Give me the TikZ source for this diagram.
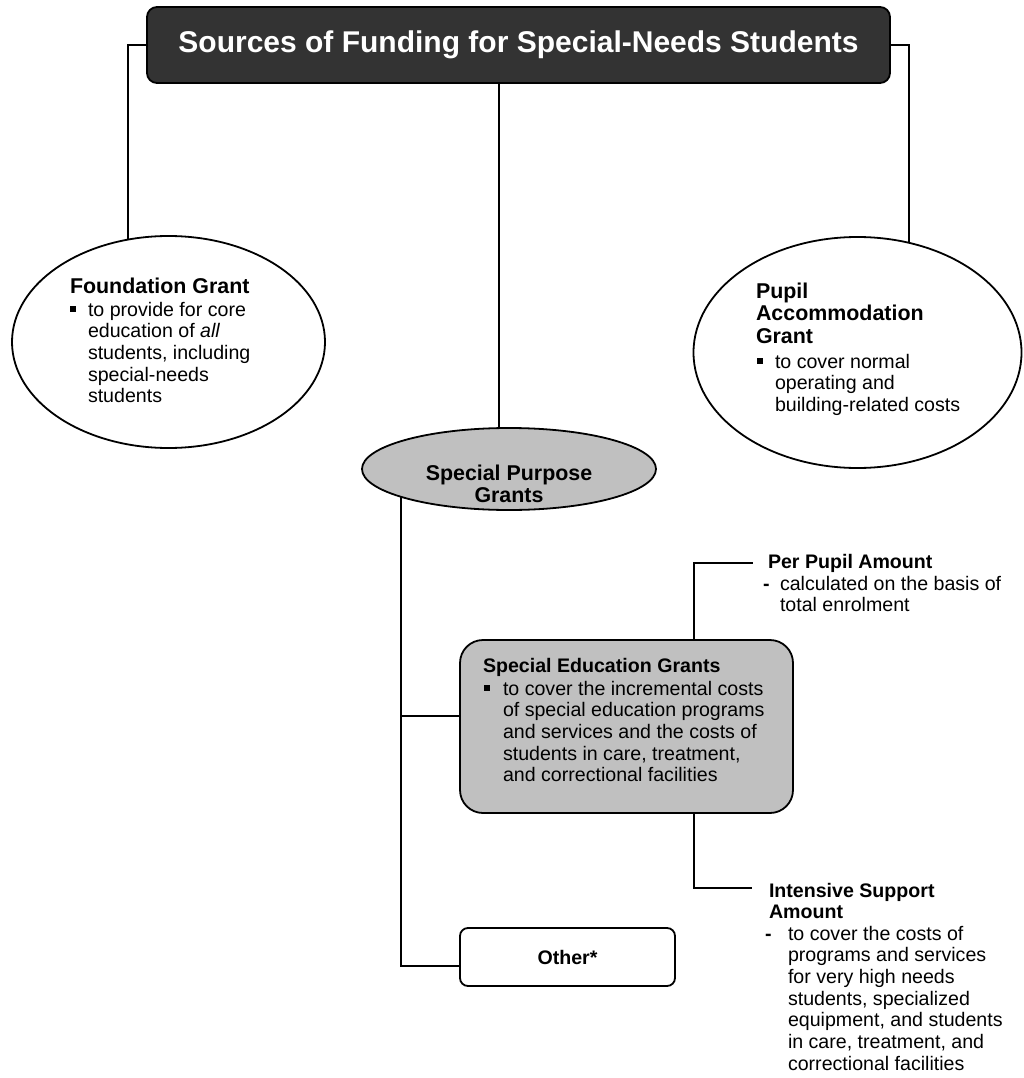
\documentclass[tikz,border=0pt]{standalone}
\usepackage{fontspec}
\setmainfont{Liberation Sans}
\usetikzlibrary{shapes.geometric,backgrounds}
\definecolor{titlefill}{HTML}{333333}
\definecolor{greyfill}{HTML}{C0C0C0}
\newcommand{\bfnt}{\fontsize{19.6}{21.7}\selectfont}
\newcommand{\bhfnt}{\fontsize{19.6}{21.7}\selectfont\bfseries}
\newcommand{\hfnt}{\fontsize{21.4}{22.8}\selectfont\bfseries}
\newcommand{\sqb}{\rule[4.5pt]{5.5pt}{5.5pt}}
\begin{document}
\begin{tikzpicture}[x=1pt,y=-1pt,
  lw/.style={line width=1.8pt},
  txt/.style={inner sep=0pt,outer sep=0pt,anchor=base west},
  ellnode/.style={ellipse,draw,lw,inner sep=0pt},
  boxnode/.style={rectangle,draw,lw,inner sep=0pt},
  conn/.style={lw}]
\useasboundingbox (0,0) rectangle (1024,1078);
% title
\node[boxnode,fill=titlefill,rounded corners=10pt,minimum width=743pt,minimum height=76pt,
  text=white,font=\fontsize{30}{34}\selectfont\bfseries] (title) at (518.5,45)
  {Sources of Funding for Special-Needs Students};
% ellipses
\node[ellnode,fill=white,minimum width=313pt,minimum height=212pt] (fg) at (168.5,342) {};
\node[ellnode,fill=white,minimum width=328pt,minimum height=231pt] (pg) at (857.5,352.5) {};
\node[ellnode,fill=greyfill,minimum width=294pt,minimum height=82pt] (spg) at (509,469) {};
% boxes
\node[boxnode,fill=greyfill,rounded corners=23pt,minimum width=333pt,minimum height=173pt] (seg) at (626.5,726.5) {};
\node[boxnode,fill=white,rounded corners=8pt,minimum width=215pt,minimum height=58pt,
  font=\bhfnt] (oth) at (567.5,957) {Other*};
% texts
\node[txt] (fgh) at (70,293) {\hfnt Foundation Grant};
\node[txt] (fgb) at (70,316) {\bfnt\begin{tabular}[t]{@{}l@{}l@{}}\makebox[18pt][l]{\sqb}&to provide for core\\&education of \textit{all}\\&students, including\\&special-needs\\&students\end{tabular}};
\node[txt] (pgh) at (756,298) {\hfnt\begin{tabular}[t]{@{}l@{}}Pupil\\Accommodation\\Grant\end{tabular}};
\node[txt] (pgb) at (757,368) {\bfnt\begin{tabular}[t]{@{}l@{}l@{}}\makebox[18pt][l]{\sqb}&to cover normal\\&operating and\\&building-related costs\end{tabular}};
\node[inner sep=0pt,anchor=base] (spgt) at (509,480) {\hfnt\begin{tabular}[t]{@{}c@{}}Special Purpose\\Grants\end{tabular}};
\node[txt] (segh) at (483,672) {\bhfnt Special Education Grants};
\node[txt] (segb) at (484,695) {\bfnt\begin{tabular}[t]{@{}l@{}l@{}}\makebox[19pt][l]{\sqb}&to cover the incremental costs\\&of special education programs\\&and services and the costs of\\&students in care, treatment,\\&and correctional facilities\end{tabular}};
\node[txt] (pph) at (768,568) {\bhfnt Per Pupil Amount};
\node[txt] (ppb) at (763,590) {\bfnt\begin{tabular}[t]{@{}l@{}l@{}}\makebox[17pt][l]{\textbf{-}}&calculated on the basis of\\&total enrolment\end{tabular}};
\node[txt] (ish) at (769,897) {\bhfnt\begin{tabular}[t]{@{}l@{}}Intensive Support\\Amount\end{tabular}};
\node[txt] (isb) at (765,940) {\bfnt\begin{tabular}[t]{@{}l@{}l@{}}\makebox[23pt][l]{\textbf{-}}&to cover the costs of\\&programs and services\\&for very high needs\\&students, specialized\\&equipment, and students\\&in care, treatment, and\\&correctional facilities\end{tabular}};
% connector coordinates
\coordinate (fgin) at (128,300);
\coordinate (pgin) at (909,300);
\coordinate (spgin) at (499,470);
\coordinate (trunk) at (401,470);
\coordinate (segj) at (401,716);
\coordinate (othj) at (401,966);
\coordinate (ppbend) at (694,563);
\coordinate (ppend) at (753,563);
\coordinate (isbend) at (694,888);
\coordinate (isend) at (752,888);
\begin{scope}[on background layer]
\fill[white] (0,0) rectangle (1024,1078);
\draw[conn] (title.west) -| (fgin);
\draw[conn] (title.east) -| (pgin);
\draw[conn] (title.south -| spgin) -- (spgin);
\draw[conn] (trunk) -- (othj) -- (othj -| oth.west);
\draw[conn] (segj) -- (segj -| seg.west);
\draw[conn] (seg.north -| ppbend) -- (ppbend) -- (ppend);
\draw[conn] (seg.south -| isbend) -- (isbend) -- (isend);
\end{scope}
\end{tikzpicture}
\end{document}
